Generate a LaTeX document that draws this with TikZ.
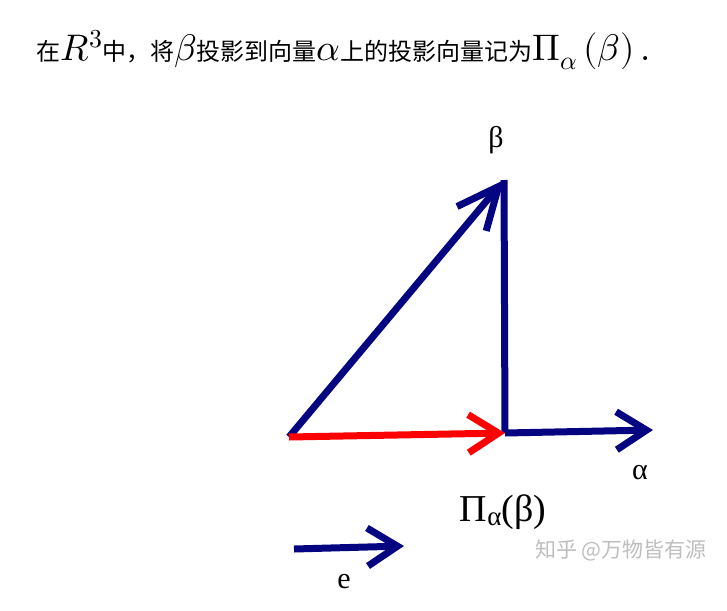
\documentclass[tikz,border=0pt]{standalone}
\usepackage{fontspec}
\setmainfont{Liberation Serif}
\newfontfamily\cjk{Noto Sans CJK SC}
\usepackage{unicode-math}
\usetikzlibrary{arrows.meta}
\definecolor{navy}{RGB}{5,5,130}
\definecolor{wm}{RGB}{190,190,190}
\newcommand{\titlemath}[1]{{\fontsize{37}{37}\selectfont$#1$}}
\tikzset{
  vec/.style={line width=7pt, -{Straight Barb[length=30pt,width=38pt,line width=7pt]}},
  vecb/.style={line width=7pt, -{Straight Barb[length=42pt,width=38pt,line width=7pt]}},
  lbl/.style={inner sep=0pt, font=\fontsize{30}{30}\selectfont},
}
\begin{document}
\begin{tikzpicture}[x=1pt,y=-1pt]
\useasboundingbox (0,0) rectangle (727,610);
\fill[white] (0,0) rectangle (727,610);
% title
\node[anchor=west, inner sep=0pt] (title) at (36,50) {\fontsize{24}{28}\selectfont\cjk 在\titlemath{R^{3}}中，将\titlemath{\beta}投影到向量\titlemath{\alpha}上的投影向量记为\titlemath{\Pi_{\alpha}\left(\beta\right).}};
% points
\coordinate (O) at (289,437);
\coordinate (B) at (504,180);
\coordinate (P) at (505,433);
\coordinate (A) at (653,430);
\coordinate (E0) at (294,549);
\coordinate (E1) at (404,546);
\draw[navy, vecb] (O) -- (B);
\draw[navy, line width=7pt] (B) -- (P);
\draw[navy, vec] (P) -- (A);
\draw[red, vec] (O) -- (P);
\draw[navy, vec] (E0) -- (E1);
% labels
\node[lbl] (lb) at (496,140) {β};
\node[lbl] (la) at (640,473) {α};
\node[lbl, font=\fontsize{38}{38}\selectfont] (lp) at (503,512) {Π\raisebox{-0.12em}{\fontsize{27}{27}\selectfont α}(β)};
\node[lbl] (le) at (344,582) {e};
\node[inner sep=0pt, text=wm, font=\fontsize{21}{21}\selectfont\cjk] (wmk) at (621,550) {知乎 @万物皆有源};
\end{tikzpicture}
\end{document}
